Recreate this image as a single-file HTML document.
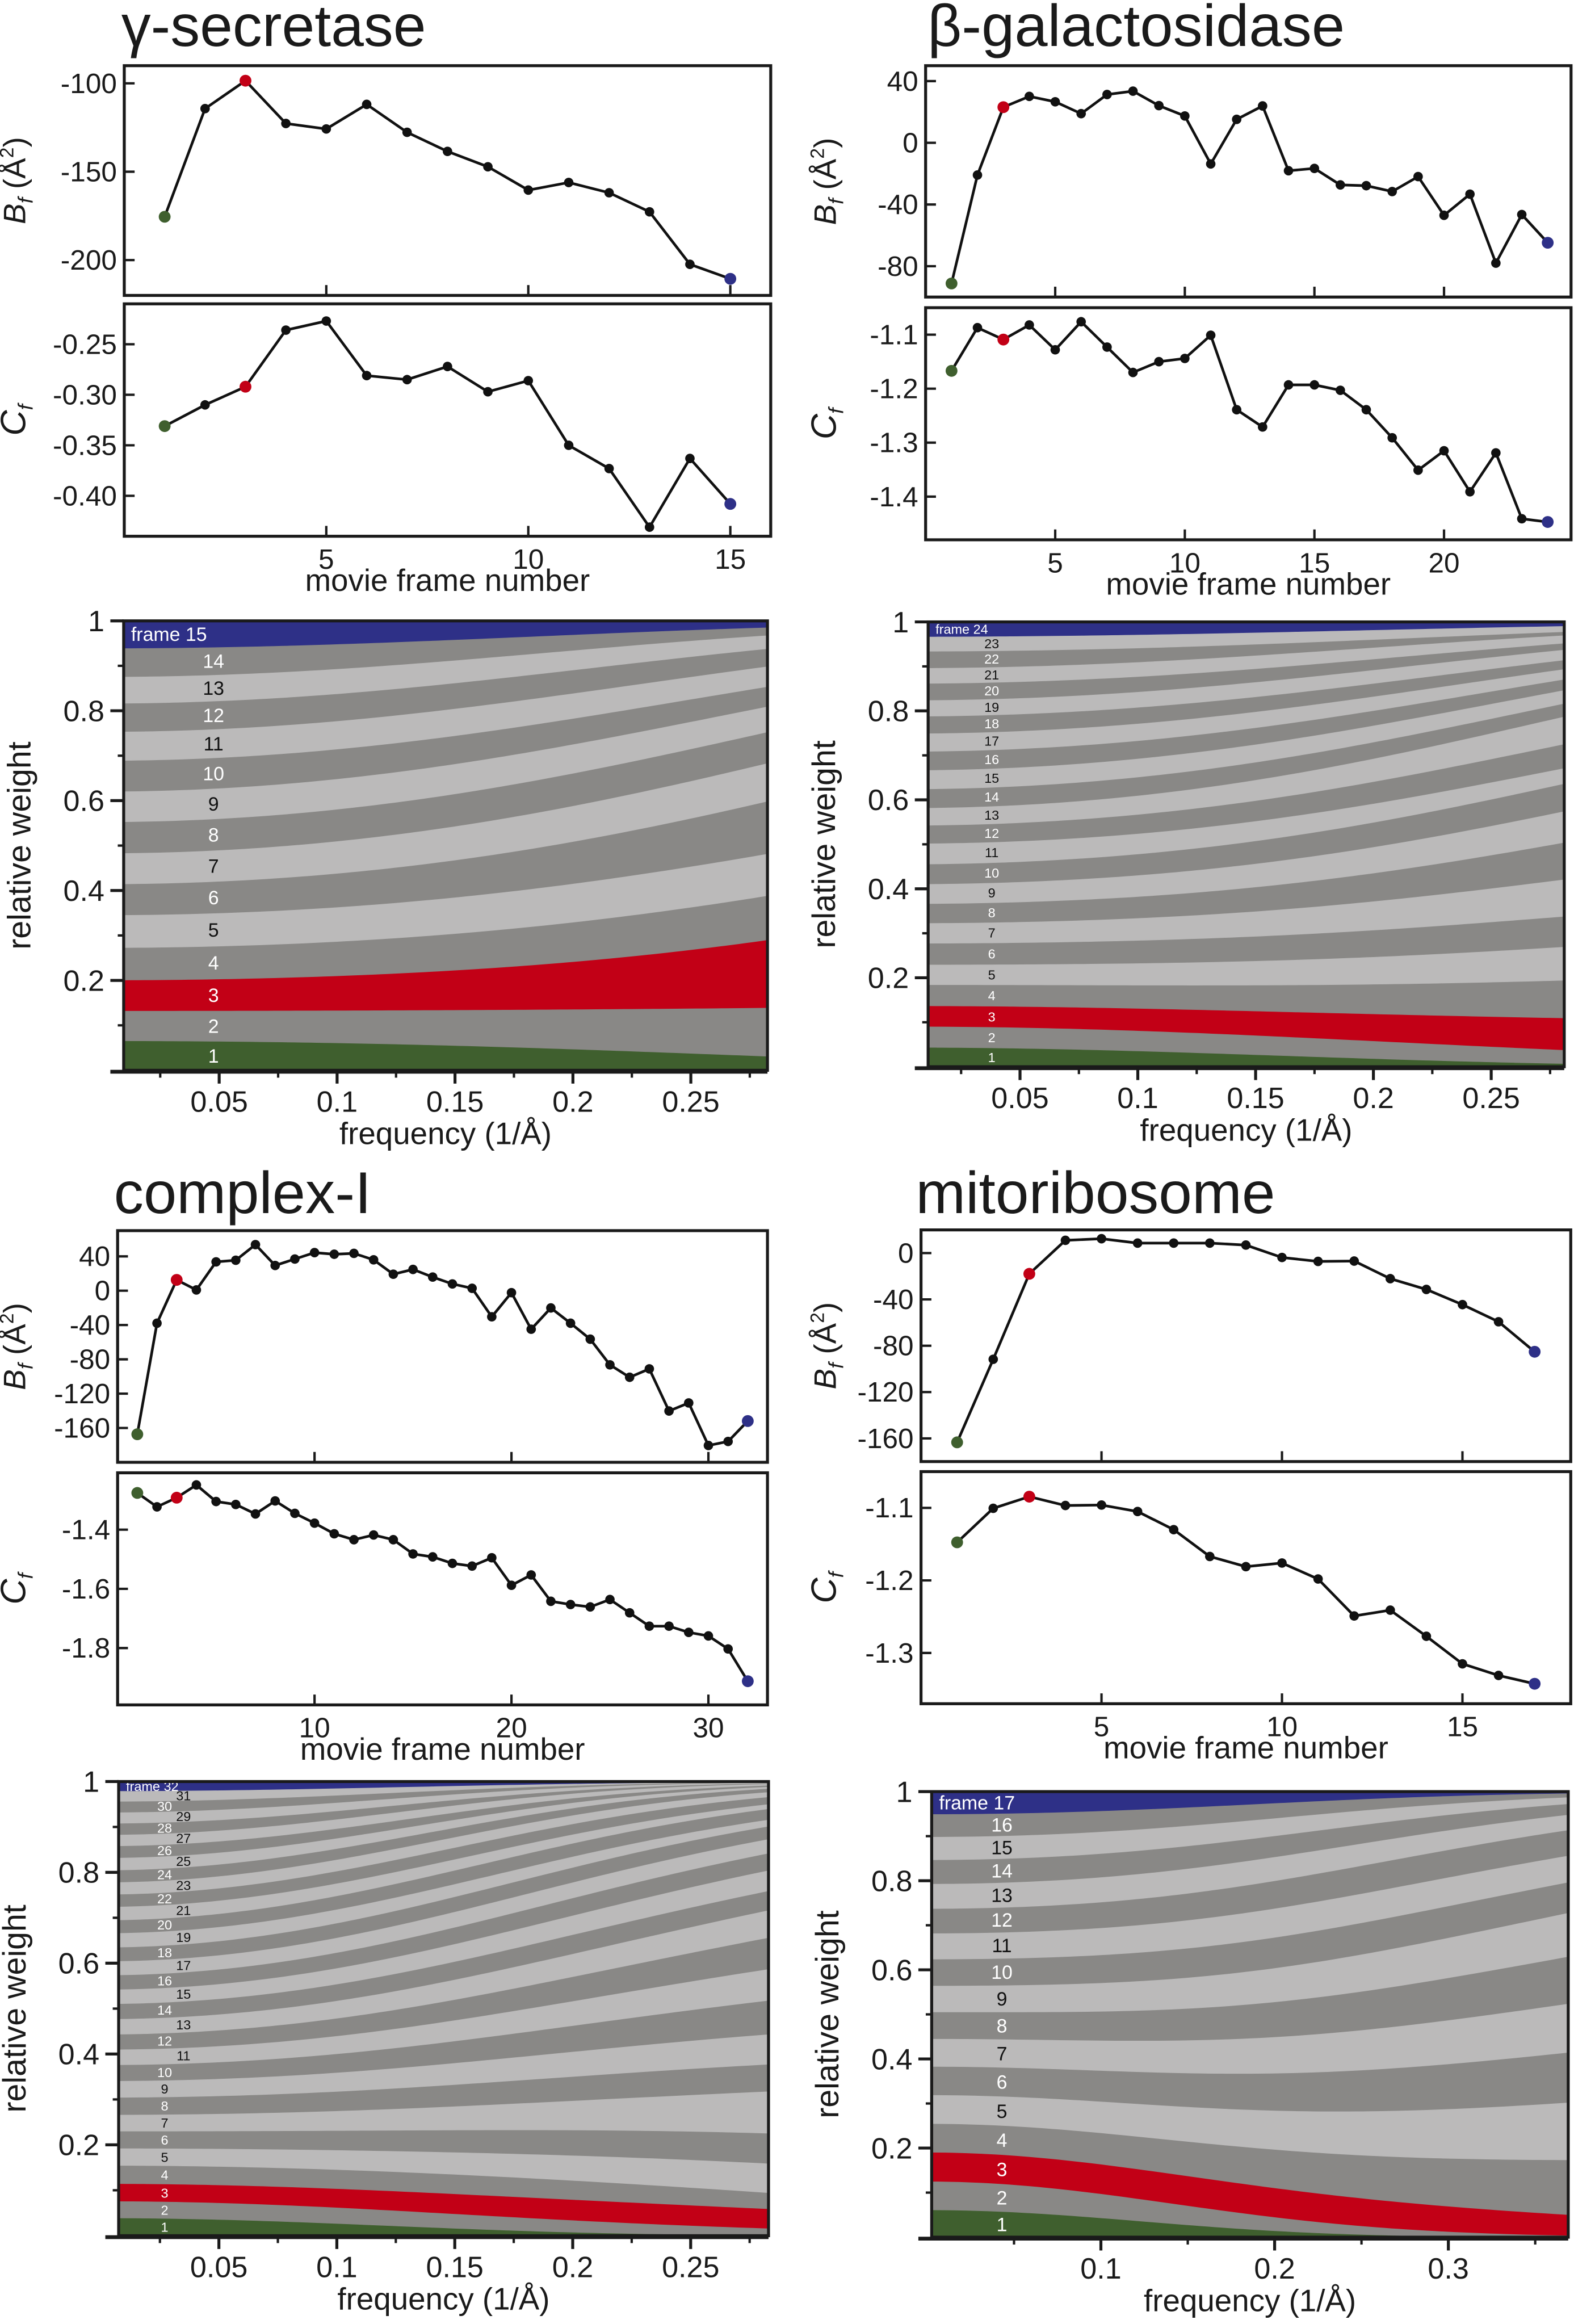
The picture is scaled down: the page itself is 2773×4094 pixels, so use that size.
<!DOCTYPE html>
<html><head><meta charset="utf-8"><title>Frame weights</title>
<style>
html,body{margin:0;padding:0;background:#fff;}
svg{display:block;}
text{font-family:"Liberation Sans Narrow","Liberation Sans",sans-serif;fill:#1a1a1a;}
</style></head>
<body>
<svg id="fig" xmlns="http://www.w3.org/2000/svg" width="2773" height="4094" viewBox="0 0 1064 1571" preserveAspectRatio="none"></svg>
<script>
// ---- data ----
const gsB = [-175.5,-114.3,-98.5,-122.7,-125.8,-111.9,-127.7,-138.5,-147.2,-160.4,-156.1,-161.9,-172.7,-202.4,-210.6];
const gsC = [-0.331,-0.310,-0.292,-0.236,-0.227,-0.281,-0.285,-0.272,-0.297,-0.286,-0.350,-0.373,-0.431,-0.363,-0.408];
const bgB = [-91.2,-20.9,23.1,30.1,26.6,18.9,31.3,33.5,24.1,17.4,-13.7,15.2,23.9,-18.1,-16.6,-27.3,-27.8,-31.6,-21.9,-47.0,-33.3,-78.0,-46.5,-64.8];
const bgC = [-1.167,-1.087,-1.109,-1.082,-1.128,-1.076,-1.123,-1.170,-1.150,-1.144,-1.101,-1.239,-1.271,-1.193,-1.193,-1.203,-1.239,-1.291,-1.351,-1.315,-1.391,-1.319,-1.441,-1.447];
const ciB = [-167.3,-37.9,12.6,0.9,33.6,35.5,53.7,29.4,36.9,44.4,42.5,43.5,36.0,19.2,24.8,15.9,7.9,2.8,-30.4,-2.3,-44.9,-20.1,-37.9,-56.5,-86.4,-100.9,-91.1,-140.2,-130.8,-180.4,-175.7,-151.9];
const ciC = [-1.276,-1.323,-1.292,-1.249,-1.305,-1.315,-1.347,-1.303,-1.345,-1.378,-1.414,-1.434,-1.418,-1.434,-1.482,-1.492,-1.514,-1.523,-1.495,-1.588,-1.553,-1.642,-1.653,-1.661,-1.636,-1.681,-1.726,-1.726,-1.747,-1.759,-1.803,-1.912];
const mrB = [-163.4,-91.7,-17.9,11.0,12.4,8.6,8.6,8.6,6.9,-3.8,-7.2,-6.9,-22.1,-31.4,-44.5,-59.3,-85.2];
const mrC = [-1.1475,-1.1006,-1.0845,-1.0967,-1.0961,-1.105,-1.130,-1.167,-1.181,-1.176,-1.198,-1.249,-1.241,-1.277,-1.315,-1.331,-1.3425];
// tick values
const gsBTicks = [-100,-150,-200];
const gsCTicks = [-0.25,-0.30,-0.35,-0.40];
const gsXTicks = [5,10,15];
const bgBTicks = [40,0,-40,-80];
const bgCTicks = [-1.1,-1.2,-1.3,-1.4];
const bgXTicks = [5,10,15,20];
const ciBTicks = [40,0,-40,-80,-120,-160];
const ciCTicks = [-1.4,-1.6,-1.8];
const ciXTicks = [10,20,30];
const mrBTicks = [0,-40,-80,-120,-160];
const mrCTicks = [-1.1,-1.2,-1.3];
const mrXTicks = [5,10,15];
const wYTicks = [1,0.8,0.6,0.4,0.2];
const wYTickLabels = ['1','0.8','0.6','0.4','0.2'];
const fTicks025 = [0.05,0.1,0.15,0.2,0.25];
const fTickLabels025 = ['0.05','0.1','0.15','0.2','0.25'];
const fTicks3 = [0.1,0.2,0.3];
const fTickLabels3 = ['0.1','0.2','0.3'];

const NS='http://www.w3.org/2000/svg';
const svg=document.getElementById('fig');
function mk(tag,parent,attrs){const e=document.createElementNS(NS,tag);for(const k in attrs)e.setAttribute(k,attrs[k]);(parent||svg).appendChild(e);return e;}
function lin(d0,d1,r0,r1){return v=>r0+(v-d0)/(d1-d0)*(r1-r0);}
const GREEN='#3f5f2e',RED='#c20016',BLUE='#2e3087',DARK='#898886',LIGHT='#bbbaba';
function dotColor(i,n){return i===0?GREEN:(i===2?RED:(i===n-1?BLUE:'#111'));}

function seriesPlot(g,name,box,xdom,ydom,vals,ticks,decimals,xticks,showXLabels,ylabelHtml,ylx){
  const x=lin(xdom[0],xdom[1],box.x0,box.x1), y=lin(ydom[0],ydom[1],box.y1,box.y0);
  const pg=mk('g',g,{});
  
  
  const fr=mk('rect',pg,{x:box.x0,y:box.y0,width:box.x1-box.x0,height:box.y1-box.y0,fill:'none',stroke:'#1a1a1a','stroke-width':2});
  
  
  ticks.forEach(t=>{
    const tl=mk('line',pg,{x1:box.x0,x2:box.x0+7,y1:y(t),y2:y(t),stroke:'#1a1a1a','stroke-width':1.6});
    
    
    const tx=mk('text',pg,{x:box.x0-5,y:y(t)+6.5,'text-anchor':'end','font-size':19});
    tx.textContent=(t<0?'-':'')+Math.abs(t).toFixed(decimals);
    
    
  });
  xticks.forEach(t=>{
    const tl=mk('line',pg,{x1:x(t),x2:x(t),y1:box.y1,y2:box.y1-7,stroke:'#1a1a1a','stroke-width':1.6});
    
    
    if(showXLabels){
      const tx=mk('text',pg,{x:x(t),y:box.y1+22,'text-anchor':'middle','font-size':19});
      tx.textContent=String(t);
      
      
    }
  });
  const pts=vals.map((v,i)=>x(i+1).toFixed(2)+','+y(v).toFixed(2)).join(' ');
  const pl=mk('polyline',pg,{points:pts,fill:'none',stroke:'#111','stroke-width':1.8});
  
  
  vals.forEach((v,i)=>{
    const c=mk('circle',pg,{cx:x(i+1),cy:y(v),r:(i===0||i===2||i===vals.length-1)?4:3.2,fill:dotColor(i,vals.length)});
    
    
  });
  const cy=(box.y0+box.y1)/2;
  const lab=mk('text',pg,{x:ylx,y:cy,'text-anchor':'middle','font-size':21,transform:'rotate(-90 '+ylx+' '+cy+')'});
  lab.innerHTML=ylabelHtml;
  
  
}

function weightPlot(g,name,box,fdom,B,C,fticks,flabels,minorStep,labelF,fontSize,altLabels){
  const x=lin(fdom[0],fdom[1],box.x0,box.x1), y=lin(0,1,box.y1,box.y0);
  const pg=mk('g',g,{});
  
  
  const n=B.length, N=90;
  function weightsAt(f){const w=B.map((b,i)=>Math.exp(C[i]+b*f*f/4));const s=w.reduce((a,c)=>a+c,0);return w.map(v=>v/s);}
  const fs=[],cum=[];
  for(let k=0;k<=N;k++){const f=fdom[0]+(fdom[1]-fdom[0])*k/N;fs.push(f);const w=weightsAt(f);const c=[0];w.forEach(v=>c.push(c[c.length-1]+v));cum.push(c);}
  for(let i=0;i<n;i++){
    let p=[];
    for(let k=0;k<=N;k++)p.push(x(fs[k]).toFixed(2)+','+y(cum[k][i+1]).toFixed(2));
    for(let k=N;k>=0;k--)p.push(x(fs[k]).toFixed(2)+','+y(cum[k][i]).toFixed(2));
    const col=i===0?GREEN:(i===2?RED:(i===n-1?BLUE:((i+1)%2===0?DARK:LIGHT)));
    const band=mk('polygon',pg,{points:p.join(' '),fill:col,stroke:col,'stroke-width':0.3});
    
    
  }
  // band labels
  for(let i=0;i<n;i++){
    let lf=labelF;
    if(altLabels){lf=(i+1>=11&&(i+1)%2===1)?altLabels[1]:altLabels[0];}
    const w=weightsAt(lf);let lo=0;for(let j=0;j<i;j++)lo+=w[j];
    const mid=lo+w[i]/2;
    const dark=(i===0||i===2||i===n-1||(i+1)%2===0);
    let tx;
    if(i===n-1){tx=mk('text',pg,{x:box.x0+5,y:y(mid)+fontSize*0.36,'font-size':fontSize,fill:'#fff'});tx.textContent='frame '+(i+1);}
    else{tx=mk('text',pg,{x:x(lf),y:y(mid)+fontSize*0.36,'text-anchor':'middle','font-size':fontSize,fill:dark?'#fff':'#111'});tx.textContent=String(i+1);}
    tx.style.fill=dark?'#fff':'#111';
    
    
  }
  const fr=mk('rect',pg,{x:box.x0,y:box.y0,width:box.x1-box.x0,height:box.y1-box.y0,fill:'none',stroke:'#1a1a1a','stroke-width':2});
  
  
  const ax=mk('line',pg,{x1:box.x0-9,x2:box.x1,y1:box.y1+1,y2:box.y1+1,stroke:'#1a1a1a','stroke-width':2.6});
  
  
  // y ticks
  for(let v=0.1;v<1.0;v+=0.2){const t=mk('line',pg,{x1:box.x0-4,x2:box.x0,y1:y(v),y2:y(v),stroke:'#1a1a1a','stroke-width':1.6});}
  wYTicks.forEach((v,i)=>{
    const t=mk('line',pg,{x1:box.x0-9,x2:box.x0,y1:y(v),y2:y(v),stroke:'#1a1a1a','stroke-width':2});
    
    
    const tx=mk('text',pg,{x:box.x0-13,y:y(v)+7,'text-anchor':'end','font-size':20});
    tx.textContent=wYTickLabels[i];
    
    
  });
  // x ticks
  for(let v=minorStep;v<fdom[1];v+=minorStep){if(v<fdom[0])continue;const t=mk('line',pg,{x1:x(v),x2:x(v),y1:box.y1,y2:box.y1+5,stroke:'#1a1a1a','stroke-width':1.6});}
  fticks.forEach((v,i)=>{
    const t=mk('line',pg,{x1:x(v),x2:x(v),y1:box.y1,y2:box.y1+9,stroke:'#1a1a1a','stroke-width':2});
    
    
    const tx=mk('text',pg,{x:x(v),y:box.y1+28,'text-anchor':'middle','font-size':20});
    tx.textContent=flabels[i];
    
    
  });
  const xt=mk('text',pg,{x:(box.x0+box.x1)/2,y:box.y1+50,'text-anchor':'middle','font-size':21});
  xt.textContent='frequency (1/Å)';
  
  
  const ylx=box.x0-63, cy=(box.y0+box.y1)/2;
  const yt=mk('text',pg,{x:ylx,y:cy,'text-anchor':'middle','font-size':22,transform:'rotate(-90 '+ylx+' '+cy+')'});
  yt.textContent='relative weight';
  
  
}

const BLAB='<tspan font-style="italic">B</tspan><tspan font-style="italic" font-size="14" dy="5">f</tspan><tspan dy="-5"> (Å</tspan><tspan font-size="13" dy="-8">2</tspan><tspan dy="8">)</tspan>';
const CLAB='<tspan font-style="italic" font-size="24">C</tspan><tspan font-style="italic" font-size="14" dy="5">f</tspan>';

function dataset(name,title,tx,ty,tw,bBox,cBox,xdom,bdom,cdom,B,C,bT,cT,cDec,xT,ylx,wBox,fdom,fT,fL,minor,labelF,fsz,alt){
  const g=mk('g',svg,{});
  
  
  const t=mk('text',g,{x:tx,y:ty,'font-size':40,textLength:tw,lengthAdjust:'spacingAndGlyphs'});
  t.textContent=title;
  
  
  seriesPlot(g,name+'-bfactor',bBox,xdom,bdom,B,bT,0,xT,false,BLAB,ylx);
  seriesPlot(g,name+'-cf',cBox,xdom,cdom,C,cT,cDec,xT,true,CLAB,ylx);
  const xl=mk('text',g,{x:(cBox.x0+cBox.x1)/2,y:cBox.y1+37,'text-anchor':'middle','font-size':21});
  xl.textContent='movie frame number';
  
  
  weightPlot(g,name,wBox,fdom,B,C,fT,fL,minor,labelF,fsz,alt);
}

dataset('gamma-secretase','γ-secretase',82,31,206,{x0:84,x1:521,y0:44.4,y1:199.7},{x0:84,x1:521,y0:205.4,y1:362.5},[0,16],[-220,-90],[-0.44,-0.21],gsB,gsC,gsBTicks,gsCTicks,2,gsXTicks,17,
  {x0:83.6,x1:518.8,y0:419.7,y1:723.5},[0.0095,0.2825],fTicks025,fTickLabels025,0.025,0.0476,13,null);
dataset('beta-galactosidase','β-galactosidase',627,31,282,{x0:625.7,x1:1062,y0:44.4,y1:200.8},{x0:625.7,x1:1062,y0:208,y1:364.9},[0,24.9],[-100,50],[-1.48,-1.05],bgB,bgC,bgBTicks,bgCTicks,1,bgXTicks,565,
  {x0:627.4,x1:1057.4,y0:420.4,y1:721.1},[0.011,0.281],fTicks025,fTickLabels025,0.025,0.038,9,null);
dataset('complex-i','complex-I',77,820,174,{x0:79.5,x1:518.8,y0:831.9,y1:988.5},{x0:79.5,x1:518.8,y0:995.6,y1:1152.5},[0,33],[-200,70],[-1.992,-1.208],ciB,ciC,ciBTicks,ciCTicks,1,ciXTicks,17,
  {x0:80.2,x1:519.5,y0:1204.3,y1:1511.3},[0.0075,0.283],fTicks025,fTickLabels025,0.025,0.03,9,[0.027,0.035]);
dataset('mitoribosome','mitoribosome',619,820,243,{x0:622.6,x1:1061.8,y0:831.4,y1:988},{x0:622.6,x1:1061.8,y0:994.8,y1:1151.7},[0,18],[-180,20],[-1.37,-1.05],mrB,mrC,mrBTicks,mrCTicks,1,mrXTicks,565,
  {x0:629.8,x1:1060.1,y0:1211.1,y1:1512.3},[0.0026,0.369],fTicks3,fTickLabels3,0.05,0.043,13,null);
</script>
</body></html>
